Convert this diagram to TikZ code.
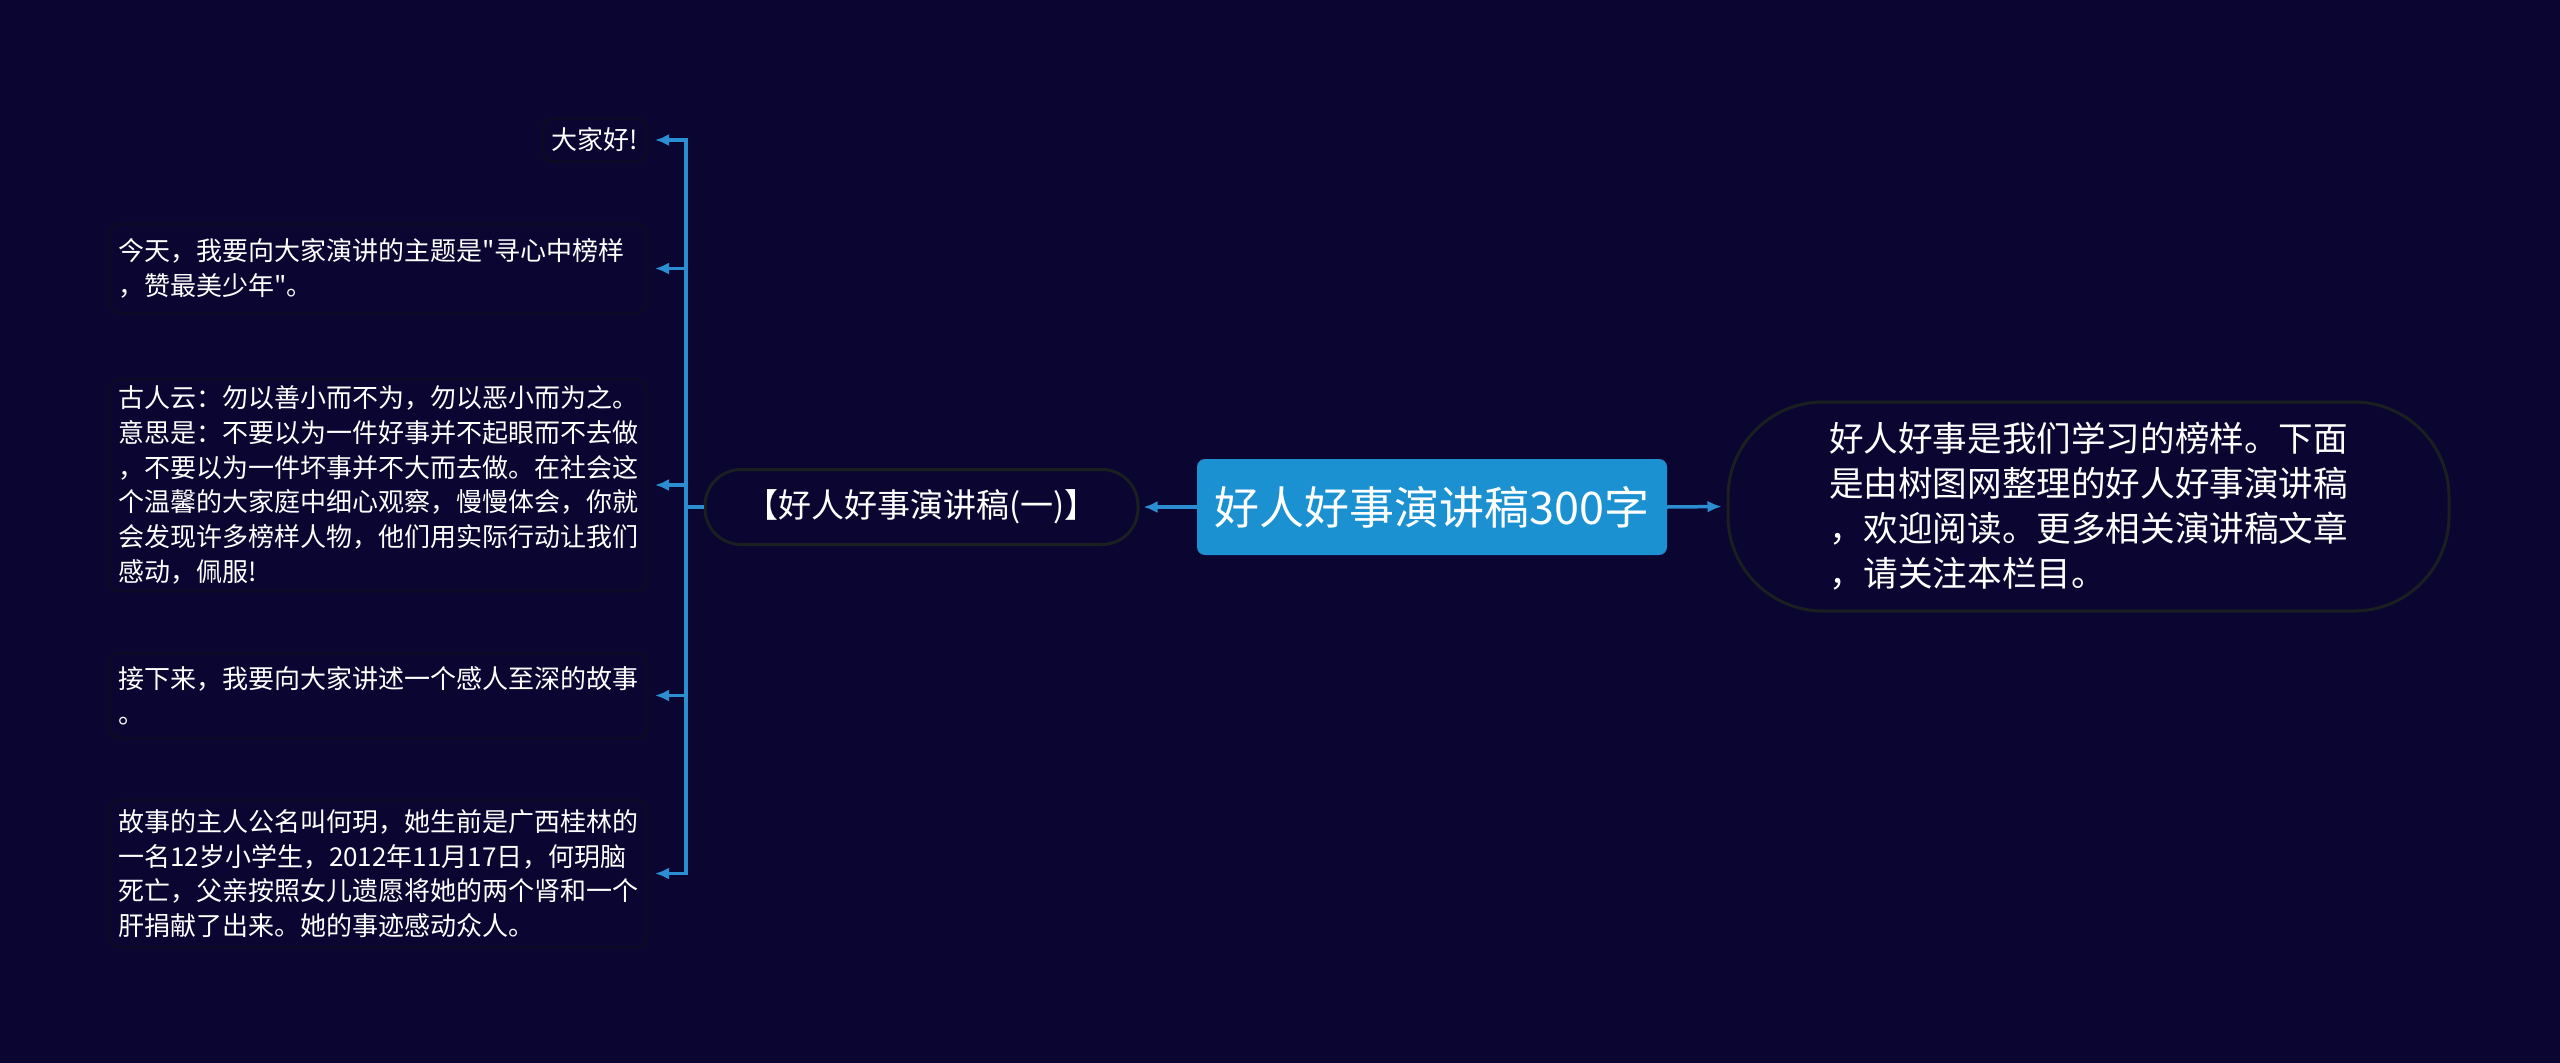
\documentclass[tikz,border=0pt]{standalone}
\usepackage{fontspec}
\newfontfamily\cjk{Noto Sans CJK SC}
\usetikzlibrary{arrows.meta}
\definecolor{bgc}{RGB}{11,5,50}
\definecolor{edgec}{RGB}{26,31,32}
\definecolor{leafedge}{RGB}{12,10,34}
\definecolor{linec}{RGB}{42,142,208}
\definecolor{mainc}{RGB}{27,145,210}
\begin{document}
\begin{tikzpicture}[x=1pt,y=-1pt,
  leaf/.style={draw=leafedge,line width=2.5pt,rounded corners=10pt,text=white,
    anchor=east,inner xsep=8.5pt,inner ysep=6pt,align=left,
    font=\cjk\fontsize{26}{34.8}\selectfont},
  wide/.style={leaf,text width=520pt},
  conn/.style={draw=linec,line width=3.5pt},
  arr/.style={conn,-{Latex[length=14pt,width=12pt]}},
]
\fill[bgc] (0,0) rectangle (2560,1063);
\useasboundingbox (0,0) rectangle (2560,1063);

\node[fill=mainc,rounded corners=8pt,minimum width=470pt,minimum height=96pt,
  text=white,font=\cjk\fontsize{45}{50}\selectfont,inner sep=0pt] (root) at (1432,507) {好人好事演讲稿300字};

\node[draw=edgec,line width=3pt,rounded corners=36pt,minimum width=433pt,minimum height=75pt,
  text=white,font=\cjk\fontsize{33}{38}\selectfont,inner sep=0pt] (left) at (921.5,507) {【好人好事演讲稿(一)】};

\node[draw=edgec,line width=3pt,rounded corners=95pt,minimum width=721pt,minimum height=209pt,
  text=white,font=\cjk\fontsize{34.6}{45}\selectfont,inner sep=0pt,align=left,text width=519pt] (right) at (2088.5,506.5)
  {好人好事是我们学习的榜样。下面\\是由树图网整理的好人好事演讲稿\\，欢迎阅读。更多相关演讲稿文章\\，请关注本栏目。};

\node[leaf,minimum height=43pt] (l1) at (648,140) {大家好!};
\node[wide,minimum height=89pt] (l2) at (648,268.5) {今天，我要向大家演讲的主题是"寻心中榜样\\，赞最美少年"。};
\node[wide,minimum height=212pt] (l3) at (648,485) {古人云：勿以善小而不为，勿以恶小而为之。\\意思是：不要以为一件好事并不起眼而不去做\\，不要以为一件坏事并不大而去做。在社会这\\个温馨的大家庭中细心观察，慢慢体会，你就\\会发现许多榜样人物，他们用实际行动让我们\\感动，佩服!};
\node[wide,minimum height=85pt] (l4) at (648,695.5) {接下来，我要向大家讲述一个感人至深的故事\\。};
\node[wide,minimum height=147pt] (l5) at (648,873.5) {故事的主人公名叫何玥，她生前是广西桂林的\\一名12岁小学生，2012年11月17日，何玥脑\\死亡，父亲按照女儿遗愿将她的两个肾和一个\\肝捐献了出来。她的事迹感动众人。};

\draw[arr,shorten >=4pt] (root.west) -- (left.east);
\draw[arr,shorten >=5pt] (root.east) -- (right.west);

\coordinate (bus) at (686,507);
\draw[conn] (left.west) -- (bus);
\foreach \n in {l1,l2,l3,l4,l5}
  \draw[arr,shorten >=7pt] (bus) |- (\n.east);
\end{tikzpicture}
\end{document}
